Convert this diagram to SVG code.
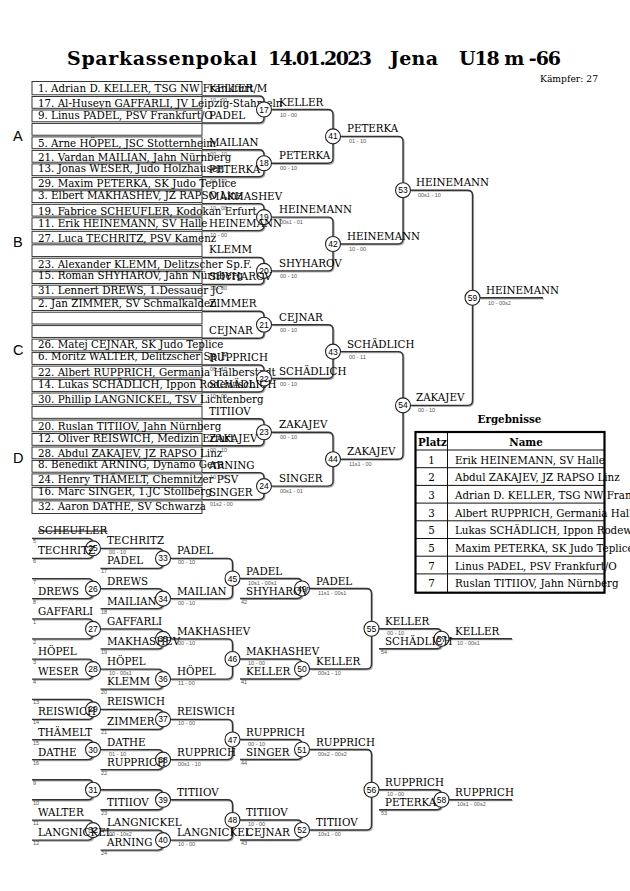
<svg xmlns="http://www.w3.org/2000/svg" xmlns:xlink="http://www.w3.org/1999/xlink" width="630" height="891" viewBox="0 0 630 891">
<style>
.t{font-family:"DejaVu Serif","Liberation Serif",serif;font-size:10.3px;fill:#000}
.b{font-weight:bold}
.s{font-family:"Liberation Sans",Arial,sans-serif;font-size:5.5px;fill:#555}
.g{font-family:"Liberation Sans",Arial,sans-serif;font-size:14.5px;fill:#000}
.row{fill:none;stroke:#222;stroke-width:0.9}
.c{fill:#fff;stroke:#222;stroke-width:1.1}
.cn{font-family:"Liberation Sans",Arial,sans-serif;font-size:8.5px;text-anchor:middle;fill:#000}
.x{text-decoration:line-through}
.m{text-anchor:middle}
</style>
<rect width="630" height="891" fill="#fff"/>
<g id="title">
<text class="t b" x="67" y="65" style="font-size:19px" textLength="190">Sparkassenpokal</text>
<text class="t b" x="268" y="65" style="font-size:19px" textLength="104">14.01.2023</text>
<text class="t b" x="390" y="65" style="font-size:19px" textLength="48">Jena</text>
<text class="t b" x="459" y="65" style="font-size:19px" textLength="102">U18 m -66</text>
<text class="t" x="540" y="81.5" style="font-size:9.2px" textLength="58">Kämpfer: 27</text>
</g>
<g id="pools">
<text class="g" x="13" y="140.7">A</text>
<text class="g" x="13" y="247.3">B</text>
<text class="g" x="13" y="355">C</text>
<text class="g" x="13" y="462.7">D</text>
</g>
<g id="entry-list">
<rect class="row" x="32" y="81.5" width="170" height="13.3"/>
<rect class="row" x="32" y="96.5" width="170" height="11.8"/>
<rect class="row" x="32" y="110" width="170" height="11.8"/>
<rect class="row" x="32" y="123.4" width="170" height="11.8"/>
<rect class="row" x="32" y="136.9" width="170" height="11.8"/>
<rect class="row" x="32" y="150.4" width="170" height="11.8"/>
<rect class="row" x="32" y="163.9" width="170" height="11.8"/>
<rect class="row" x="32" y="177.4" width="170" height="11.8"/>
<rect class="row" x="32" y="190.8" width="170" height="11.8"/>
<rect class="row" x="32" y="204.3" width="170" height="11.8"/>
<rect class="row" x="32" y="217.8" width="170" height="11.8"/>
<rect class="row" x="32" y="231.3" width="170" height="11.8"/>
<rect class="row" x="32" y="244.8" width="170" height="11.8"/>
<rect class="row" x="32" y="258.2" width="170" height="11.8"/>
<rect class="row" x="32" y="271.7" width="170" height="11.8"/>
<rect class="row" x="32" y="285.2" width="170" height="11.8"/>
<rect class="row" x="32" y="298.7" width="170" height="11.8"/>
<rect class="row" x="32" y="312.2" width="170" height="11.8"/>
<rect class="row" x="32" y="325.6" width="170" height="11.8"/>
<rect class="row" x="32" y="339.1" width="170" height="11.8"/>
<rect class="row" x="32" y="352.6" width="170" height="11.8"/>
<rect class="row" x="32" y="366.1" width="170" height="11.8"/>
<rect class="row" x="32" y="379.6" width="170" height="11.8"/>
<rect class="row" x="32" y="393" width="170" height="11.8"/>
<rect class="row" x="32" y="406.5" width="170" height="11.8"/>
<rect class="row" x="32" y="420" width="170" height="11.8"/>
<rect class="row" x="32" y="433.5" width="170" height="11.8"/>
<rect class="row" x="32" y="447" width="170" height="11.8"/>
<rect class="row" x="32" y="460.4" width="170" height="11.8"/>
<rect class="row" x="32" y="473.9" width="170" height="11.8"/>
<rect class="row" x="32" y="487.4" width="170" height="11.8"/>
<rect class="row" x="32" y="500.9" width="170" height="12.6"/>
<text class="t" x="38" y="92.3">1. Adrian D. KELLER, TSG NW Frankfurt/M</text>
<text class="t" x="38" y="106.7">17. Al-Huseyn GAFFARLI, JV Leipzig-Stahmeln</text>
<text class="t" x="38" y="119.3">9. Linus PADEL, PSV Frankfurt/O</text>
<text class="t" x="38" y="146.7">5. Arne HÖPEL, JSC Stotternheim</text>
<text class="t" x="38" y="160.7">21. Vardan MAILIAN, Jahn Nürnberg</text>
<text class="t" x="38" y="171.7">13. Jonas WESER, Judo Holzhausen</text>
<text class="t" x="38" y="187.3">29. Maxim PETERKA, SK Judo Teplice</text>
<text class="t" x="38" y="198.7">3. Elbert MAKHASHEV, JZ RAPSO Linz</text>
<text class="t" x="38" y="215">19. Fabrice SCHEUFLER, Kodokan Erfurt</text>
<text class="t" x="38" y="226.7">11. Erik HEINEMANN, SV Halle</text>
<text class="t" x="38" y="241.7">27. Luca TECHRITZ, PSV Kamenz</text>
<text class="t" x="38" y="268.3">23. Alexander KLEMM, Delitzscher Sp.F.</text>
<text class="t" x="38" y="279.3">15. Roman SHYHAROV, Jahn Nürnberg</text>
<text class="t" x="38" y="294">31. Lennert DREWS, 1.Dessauer JC</text>
<text class="t" x="38" y="306.7">2. Jan ZIMMER, SV Schmalkalden</text>
<text class="t" x="38" y="348.3">26. Matej CEJNAR, SK Judo Teplice</text>
<text class="t" x="38" y="360">6. Moritz WALTER, Delitzscher Sp.F.</text>
<text class="t" x="38" y="376">22. Albert RUPPRICH, Germania Halberstadt</text>
<text class="t" x="38" y="387.7">14. Lukas SCHÄDLICH, Ippon Rodewisch</text>
<text class="t" x="38" y="403.3">30. Phillip LANGNICKEL, TSV Lichtenberg</text>
<text class="t" x="38" y="430">20. Ruslan TITIIOV, Jahn Nürnberg</text>
<text class="t" x="38" y="441.7">12. Oliver REISWICH, Medizin Erfurt</text>
<text class="t" x="38" y="456.7">28. Abdul ZAKAJEV, JZ RAPSO Linz</text>
<text class="t" x="38" y="468.3">8. Benedikt ARNING, Dynamo Gera</text>
<text class="t" x="38" y="483.3">24. Henry THÄMELT, Chemnitzer PSV</text>
<text class="t" x="38" y="495">16. Marc SINGER, 1.JC Stollberg</text>
<text class="t" x="38" y="510">32. Aaron DATHE, SV Schwarza</text>
</g>
<g id="connectors" fill="none" stroke-width="1.4">
<use xlink:href="#conn-paths" href="#conn-paths" stroke="#aaaaaa" transform="translate(0.9,0.9)"/>
<g stroke="#333">
<g id="conn-paths">
<path d="M202,96H259Q264,96 264,101V118Q264,123 259,123H202"/>
<path d="M202,149.8H259Q264,149.8 264,154.8V171.8Q264,176.8 259,176.8H202"/>
<path d="M202,203.6H259Q264,203.6 264,208.6V225.6Q264,230.6 259,230.6H202"/>
<path d="M202,257.4H259Q264,257.4 264,262.4V279.4Q264,284.4 259,284.4H202"/>
<path d="M202,311.2H259Q264,311.2 264,316.2V333.2Q264,338.2 259,338.2H202"/>
<path d="M202,365H259Q264,365 264,370V387Q264,392 259,392H202"/>
<path d="M202,418.8H259Q264,418.8 264,423.8V440.8Q264,445.8 259,445.8H202"/>
<path d="M202,472.6H259Q264,472.6 264,477.6V494.6Q264,499.6 259,499.6H202"/>
<path d="M271.5,109.5H328Q333,109.5 333,114.5V158.3Q333,163.3 328,163.3H271.5"/>
<path d="M271.5,217.1H328Q333,217.1 333,222.1V265.9Q333,270.9 328,270.9H271.5"/>
<path d="M271.5,324.7H328Q333,324.7 333,329.7V373.5Q333,378.5 328,378.5H271.5"/>
<path d="M271.5,432.3H328Q333,432.3 333,437.3V481.1Q333,486.1 328,486.1H271.5"/>
<path d="M340.5,136.4H398Q403,136.4 403,141.4V239Q403,244 398,244H340.5"/>
<path d="M340.5,351.6H398Q403,351.6 403,356.6V454.2Q403,459.2 398,459.2H340.5"/>
<path d="M410.5,190.2H467.5Q472.5,190.2 472.5,195.2V400.4Q472.5,405.4 467.5,405.4H410.5"/>
<path d="M480,297.8H543"/>
<path d="M32,538.4H88Q93,538.4 93,543.4V553.4Q93,558.4 88,558.4H32"/>
<path d="M32,578.6H88Q93,578.6 93,583.6V593.6Q93,598.6 88,598.6H32"/>
<path d="M32,618.9H88Q93,618.9 93,623.9V633.9Q93,638.9 88,638.9H32"/>
<path d="M32,659.1H88Q93,659.1 93,664.1V674.1Q93,679.1 88,679.1H32"/>
<path d="M32,699.4H88Q93,699.4 93,704.4V714.4Q93,719.4 88,719.4H32"/>
<path d="M32,739.6H88Q93,739.6 93,744.6V754.6Q93,759.6 88,759.6H32"/>
<path d="M32,779.8H88Q93,779.8 93,784.8V794.8Q93,799.8 88,799.8H32"/>
<path d="M32,820.1H88Q93,820.1 93,825.1V835.1Q93,840.1 88,840.1H32"/>
<path d="M100.5,548.4H158Q163,548.4 163,553.4V563.4Q163,568.4 158,568.4H100.5"/>
<path d="M100.5,588.6H158Q163,588.6 163,593.6V603.6Q163,608.6 158,608.6H100.5"/>
<path d="M100.5,628.9H158Q163,628.9 163,633.9V643.9Q163,648.9 158,648.9H100.5"/>
<path d="M100.5,669.1H158Q163,669.1 163,674.1V684.1Q163,689.1 158,689.1H100.5"/>
<path d="M100.5,709.4H158Q163,709.4 163,714.4V724.4Q163,729.4 158,729.4H100.5"/>
<path d="M100.5,749.6H158Q163,749.6 163,754.6V764.6Q163,769.6 158,769.6H100.5"/>
<path d="M100.5,789.8H158Q163,789.8 163,794.8V804.8Q163,809.8 158,809.8H100.5"/>
<path d="M100.5,830.1H158Q163,830.1 163,835.1V845.1Q163,850.1 158,850.1H100.5"/>
<path d="M170.5,558.4H227.5Q232.5,558.4 232.5,563.4V593.6Q232.5,598.6 227.5,598.6H170.5"/>
<path d="M170.5,638.9H227.5Q232.5,638.9 232.5,643.9V674.1Q232.5,679.1 227.5,679.1H170.5"/>
<path d="M170.5,719.4H227.5Q232.5,719.4 232.5,724.4V754.6Q232.5,759.6 227.5,759.6H170.5"/>
<path d="M170.5,799.8H227.5Q232.5,799.8 232.5,804.8V835.1Q232.5,840.1 227.5,840.1H170.5"/>
<path d="M240,578.5H297Q302,578.5 302,583.5V593.5Q302,598.5 297,598.5H240"/>
<path d="M240,659H297Q302,659 302,664V674Q302,679 297,679H240"/>
<path d="M240,739.5H297Q302,739.5 302,744.5V754.5Q302,759.5 297,759.5H240"/>
<path d="M240,820H297Q302,820 302,825V835Q302,840 297,840H240"/>
<path d="M309.5,588.5H366.5Q371.5,588.5 371.5,593.5V664Q371.5,669 366.5,669H309.5"/>
<path d="M309.5,749.5H366.5Q371.5,749.5 371.5,754.5V825Q371.5,830 366.5,830H309.5"/>
<path d="M379,628.75H436.5Q441.5,628.75 441.5,633.75V643.75Q441.5,648.75 436.5,648.75H379"/>
<path d="M379,789.75H436.5Q441.5,789.75 441.5,794.75V804.75Q441.5,809.75 436.5,809.75H379"/>
<path d="M449,638.75H512"/>
<path d="M449,799.75H512"/>
</g>
</g>
</g>
<g id="m17">
<circle class="c" cx="264" cy="109.5" r="7.5"/><text class="cn" x="264" y="112.5">17</text>
<text class="t" x="209" y="92">KELLER</text><text class="s" x="210" y="102">10 - 00</text>
<text class="t" x="209" y="119">PADEL</text>
<text class="t" x="279" y="105.5">KELLER</text><text class="s" x="280" y="116.5">10 - 00</text>
</g>
<g id="m18">
<circle class="c" cx="264" cy="163.3" r="7.5"/><text class="cn" x="264" y="166.3">18</text>
<text class="t" x="209" y="145.8">MAILIAN</text><text class="s" x="210" y="155.8">00 - 10</text>
<text class="t" x="209" y="172.8">PETERKA</text><text class="s" x="210" y="182.8">00 - 10</text>
<text class="t" x="279" y="159.3">PETERKA</text><text class="s" x="280" y="170.3">00 - 10</text>
</g>
<g id="m19">
<circle class="c" cx="264" cy="217.1" r="7.5"/><text class="cn" x="264" y="220.1">19</text>
<text class="t" x="209" y="199.6">MAKHASHEV</text><text class="s" x="210" y="209.6">10 - 00</text>
<text class="t" x="209" y="226.6">HEINEMANN</text><text class="s" x="210" y="236.6">10 - 00</text>
<text class="t" x="279" y="213.1">HEINEMANN</text><text class="s" x="280" y="224.1">00s1 - 01</text>
</g>
<g id="m20">
<circle class="c" cx="264" cy="270.9" r="7.5"/><text class="cn" x="264" y="273.9">20</text>
<text class="t" x="209" y="253.4">KLEMM</text>
<text class="t" x="209" y="280.4">SHYHAROV</text><text class="s" x="210" y="290.4">10 - 00</text>
<text class="t" x="279" y="266.9">SHYHAROV</text><text class="s" x="280" y="277.9">00 - 10</text>
</g>
<g id="m21">
<circle class="c" cx="264" cy="324.7" r="7.5"/><text class="cn" x="264" y="327.7">21</text>
<text class="t" x="209" y="307.2">ZIMMER</text>
<text class="t" x="209" y="334.2">CEJNAR</text>
<text class="t" x="279" y="320.7">CEJNAR</text><text class="s" x="280" y="331.7">00 - 10</text>
</g>
<g id="m22">
<circle class="c" cx="264" cy="378.5" r="7.5"/><text class="cn" x="264" y="381.5">22</text>
<text class="t" x="209" y="361">RUPPRICH</text><text class="s" x="210" y="371">00 - 10</text>
<text class="t" x="209" y="388">SCHÄDLICH</text><text class="s" x="210" y="398">10 - 00</text>
<text class="t" x="279" y="374.5">SCHÄDLICH</text><text class="s" x="280" y="385.5">00 - 10</text>
</g>
<g id="m23">
<circle class="c" cx="264" cy="432.3" r="7.5"/><text class="cn" x="264" y="435.3">23</text>
<text class="t" x="209" y="414.8">TITIIOV</text>
<text class="t" x="209" y="441.8">ZAKAJEV</text><text class="s" x="210" y="451.8">00 - 10</text>
<text class="t" x="279" y="428.3">ZAKAJEV</text><text class="s" x="280" y="439.3">00 - 10</text>
</g>
<g id="m24">
<circle class="c" cx="264" cy="486.1" r="7.5"/><text class="cn" x="264" y="489.1">24</text>
<text class="t" x="209" y="468.6">ARNING</text><text class="s" x="210" y="478.6">10 - 00</text>
<text class="t" x="209" y="495.6">SINGER</text><text class="s" x="210" y="505.6">01s2 - 00</text>
<text class="t" x="279" y="482.1">SINGER</text><text class="s" x="280" y="493.1">00s1 - 01</text>
</g>
<g id="m41">
<circle class="c" cx="333" cy="136.4" r="7.5"/><text class="cn" x="333" y="139.4">41</text>
<text class="t" x="347" y="132.4">PETERKA</text><text class="s" x="349" y="143.4">01 - 10</text>
</g>
<g id="m42">
<circle class="c" cx="333" cy="244" r="7.5"/><text class="cn" x="333" y="247">42</text>
<text class="t" x="347" y="240">HEINEMANN</text><text class="s" x="349" y="251">10 - 00</text>
</g>
<g id="m43">
<circle class="c" cx="333" cy="351.6" r="7.5"/><text class="cn" x="333" y="354.6">43</text>
<text class="t" x="347" y="347.6">SCHÄDLICH</text><text class="s" x="349" y="358.6">00 - 11</text>
</g>
<g id="m44">
<circle class="c" cx="333" cy="459.2" r="7.5"/><text class="cn" x="333" y="462.2">44</text>
<text class="t" x="347" y="455.2">ZAKAJEV</text><text class="s" x="349" y="466.2">11s1 - 00</text>
</g>
<g id="m53">
<circle class="c" cx="403" cy="190.2" r="7.5"/><text class="cn" x="403" y="193.2">53</text>
<text class="t" x="416" y="186.2">HEINEMANN</text><text class="s" x="418" y="197.2">00s1 - 10</text>
</g>
<g id="m54">
<circle class="c" cx="403" cy="405.4" r="7.5"/><text class="cn" x="403" y="408.4">54</text>
<text class="t" x="416" y="401.4">ZAKAJEV</text><text class="s" x="418" y="412.4">00 - 10</text>
</g>
<g id="m59">
<circle class="c" cx="472.5" cy="297.8" r="7.5"/><text class="cn" x="472.5" y="300.8">59</text>
<text class="t" x="486" y="293.8">HEINEMANN</text><text class="s" x="488" y="304.8">10 - 00s2</text>
</g>
<g id="m25">
<circle class="c" cx="93" cy="548.4" r="7.5"/><text class="cn" x="93" y="551.4">25</text>
<text class="t x" x="38" y="534.4">SCHEUFLER</text><text class="s" x="33" y="543.4">5</text>
<text class="t" x="38" y="554.4">TECHRITZ</text><text class="s" x="33" y="563.4">6</text>
</g>
<g id="m26">
<circle class="c" cx="93" cy="588.6" r="7.5"/><text class="cn" x="93" y="591.6">26</text>
<text class="s" x="33" y="583.6">7</text>
<text class="t" x="38" y="594.6">DREWS</text><text class="s" x="33" y="603.6">8</text>
</g>
<g id="m27">
<circle class="c" cx="93" cy="628.9" r="7.5"/><text class="cn" x="93" y="631.9">27</text>
<text class="t" x="38" y="614.9">GAFFARLI</text><text class="s" x="33" y="623.9">1</text>
<text class="s" x="33" y="643.9">2</text>
</g>
<g id="m28">
<circle class="c" cx="93" cy="669.1" r="7.5"/><text class="cn" x="93" y="672.1">28</text>
<text class="t" x="38" y="655.1">HÖPEL</text><text class="s" x="33" y="664.1">3</text>
<text class="t" x="38" y="675.1">WESER</text><text class="s" x="33" y="684.1">4</text>
</g>
<g id="m29">
<circle class="c" cx="93" cy="709.4" r="7.5"/><text class="cn" x="93" y="712.4">29</text>
<text class="s" x="33" y="704.4">13</text>
<text class="t" x="38" y="715.4">REISWICH</text><text class="s" x="33" y="724.4">14</text>
</g>
<g id="m30">
<circle class="c" cx="93" cy="749.6" r="7.5"/><text class="cn" x="93" y="752.6">30</text>
<text class="t" x="38" y="735.6">THÄMELT</text><text class="s" x="33" y="744.6">15</text>
<text class="t" x="38" y="755.6">DATHE</text><text class="s" x="33" y="764.6">16</text>
</g>
<g id="m31">
<circle class="c" cx="93" cy="789.8" r="7.5"/><text class="cn" x="93" y="792.8">31</text>
<text class="s" x="33" y="784.8">9</text>
<text class="s" x="33" y="804.8">10</text>
</g>
<g id="m32">
<circle class="c" cx="93" cy="830.1" r="7.5"/><text class="cn" x="93" y="833.1">32</text>
<text class="t" x="38" y="816.1">WALTER</text><text class="s" x="33" y="825.1">11</text>
<text class="t" x="38" y="836.1">LANGNICKEL</text><text class="s" x="33" y="845.1">12</text>
</g>
<g id="m33">
<circle class="c" cx="163" cy="558.4" r="7.5"/><text class="cn" x="163" y="561.4">33</text>
<text class="t" x="107" y="544.4">TECHRITZ</text><text class="s" x="109" y="554.4">00 - 10</text>
<text class="t" x="107" y="564.4">PADEL</text><text class="s" x="101" y="573.4">17</text>
</g>
<g id="m34">
<circle class="c" cx="163" cy="598.6" r="7.5"/><text class="cn" x="163" y="601.6">34</text>
<text class="t" x="107" y="584.6">DREWS</text>
<text class="t" x="107" y="604.6">MAILIAN</text><text class="s" x="101" y="613.6">18</text>
</g>
<g id="m35">
<circle class="c" cx="163" cy="638.9" r="7.5"/><text class="cn" x="163" y="641.9">35</text>
<text class="t" x="107" y="624.9">GAFFARLI</text>
<text class="t" x="107" y="644.9">MAKHASHEV</text><text class="s" x="101" y="653.9">19</text>
</g>
<g id="m36">
<circle class="c" cx="163" cy="679.1" r="7.5"/><text class="cn" x="163" y="682.1">36</text>
<text class="t" x="107" y="665.1">HÖPEL</text><text class="s" x="109" y="675.1">10 - 00s1</text>
<text class="t" x="107" y="685.1">KLEMM</text><text class="s" x="101" y="694.1">20</text>
</g>
<g id="m37">
<circle class="c" cx="163" cy="719.4" r="7.5"/><text class="cn" x="163" y="722.4">37</text>
<text class="t" x="107" y="705.4">REISWICH</text>
<text class="t" x="107" y="725.4">ZIMMER</text><text class="s" x="101" y="734.4">21</text>
</g>
<g id="m38">
<circle class="c" cx="163" cy="759.6" r="7.5"/><text class="cn" x="163" y="762.6">38</text>
<text class="t" x="107" y="745.6">DATHE</text><text class="s" x="109" y="755.6">01 - 10</text>
<text class="t" x="107" y="765.6">RUPPRICH</text><text class="s" x="101" y="774.6">22</text>
</g>
<g id="m39">
<circle class="c" cx="163" cy="799.8" r="7.5"/><text class="cn" x="163" y="802.8">39</text>
<text class="t" x="107" y="805.8">TITIIOV</text><text class="s" x="101" y="814.8">23</text>
</g>
<g id="m40">
<circle class="c" cx="163" cy="840.1" r="7.5"/><text class="cn" x="163" y="843.1">40</text>
<text class="t" x="107" y="826.1">LANGNICKEL</text><text class="s" x="109" y="836.1">00 - 10s2</text>
<text class="t" x="107" y="846.1">ARNING</text><text class="s" x="101" y="855.1">24</text>
</g>
<g id="m45">
<circle class="c" cx="232.5" cy="578.5" r="7.5"/><text class="cn" x="232.5" y="581.5">45</text>
<text class="t" x="177" y="554.4">PADEL</text><text class="s" x="178" y="564.4">00 - 10</text>
<text class="t" x="177" y="594.6">MAILIAN</text><text class="s" x="178" y="604.6">00 - 10</text>
</g>
<g id="m46">
<circle class="c" cx="232.5" cy="659" r="7.5"/><text class="cn" x="232.5" y="662">46</text>
<text class="t" x="177" y="634.9">MAKHASHEV</text><text class="s" x="178" y="644.9">00 - 10</text>
<text class="t" x="177" y="675.1">HÖPEL</text><text class="s" x="178" y="685.1">11 - 00</text>
</g>
<g id="m47">
<circle class="c" cx="232.5" cy="739.5" r="7.5"/><text class="cn" x="232.5" y="742.5">47</text>
<text class="t" x="177" y="715.4">REISWICH</text><text class="s" x="178" y="725.4">10 - 00</text>
<text class="t" x="177" y="755.6">RUPPRICH</text><text class="s" x="178" y="765.6">00s1 - 10</text>
</g>
<g id="m48">
<circle class="c" cx="232.5" cy="820" r="7.5"/><text class="cn" x="232.5" y="823">48</text>
<text class="t" x="177" y="795.8">TITIIOV</text>
<text class="t" x="177" y="836.1">LANGNICKEL</text><text class="s" x="178" y="846.1">10 - 00</text>
</g>
<g id="m49">
<circle class="c" cx="302" cy="588.5" r="7.5"/><text class="cn" x="302" y="591.5">49</text>
<text class="t" x="246" y="574.5">PADEL</text><text class="s" x="248" y="584.5">10s1 - 00s1</text>
<text class="t" x="246" y="594.5">SHYHAROV</text><text class="s" x="241" y="603.5">42</text>
</g>
<g id="m50">
<circle class="c" cx="302" cy="669" r="7.5"/><text class="cn" x="302" y="672">50</text>
<text class="t" x="246" y="655">MAKHASHEV</text><text class="s" x="248" y="665">10 - 00</text>
<text class="t" x="246" y="675">KELLER</text><text class="s" x="241" y="684">41</text>
</g>
<g id="m51">
<circle class="c" cx="302" cy="749.5" r="7.5"/><text class="cn" x="302" y="752.5">51</text>
<text class="t" x="246" y="735.5">RUPPRICH</text><text class="s" x="248" y="745.5">00 - 10</text>
<text class="t" x="246" y="755.5">SINGER</text><text class="s" x="241" y="764.5">44</text>
</g>
<g id="m52">
<circle class="c" cx="302" cy="830" r="7.5"/><text class="cn" x="302" y="833">52</text>
<text class="t" x="246" y="816">TITIIOV</text><text class="s" x="248" y="826">10 - 00</text>
<text class="t" x="246" y="836">CEJNAR</text><text class="s" x="241" y="845">43</text>
</g>
<g id="m55">
<circle class="c" cx="371.5" cy="628.75" r="7.5"/><text class="cn" x="371.5" y="631.75">55</text>
<text class="t" x="316" y="584.5">PADEL</text><text class="s" x="318" y="594.5">11s1 - 00s1</text>
<text class="t" x="316" y="665">KELLER</text><text class="s" x="318" y="675">00s1 - 10</text>
</g>
<g id="m56">
<circle class="c" cx="371.5" cy="789.75" r="7.5"/><text class="cn" x="371.5" y="792.75">56</text>
<text class="t" x="316" y="745.5">RUPPRICH</text><text class="s" x="318" y="755.5">00s2 - 00s2</text>
<text class="t" x="316" y="826">TITIIOV</text><text class="s" x="318" y="836">10s1 - 00</text>
</g>
<g id="m57">
<circle class="c" cx="441.5" cy="638.75" r="7.5"/><text class="cn" x="441.5" y="641.75">57</text>
<text class="t" x="385" y="624.75">KELLER</text><text class="s" x="387" y="634.75">00 - 10</text>
<text class="t" x="385" y="644.75">SCHÄDLICH</text><text class="s" x="381" y="653.75">54</text>
<text class="t" x="455" y="634.75">KELLER</text><text class="s" x="457" y="644.75">10 - 00s1</text>
</g>
<g id="m58">
<circle class="c" cx="441.5" cy="799.75" r="7.5"/><text class="cn" x="441.5" y="802.75">58</text>
<text class="t" x="385" y="785.75">RUPPRICH</text><text class="s" x="387" y="795.75">10 - 00</text>
<text class="t" x="385" y="805.75">PETERKA</text><text class="s" x="381" y="814.75">53</text>
<text class="t" x="455" y="795.75">RUPPRICH</text><text class="s" x="457" y="805.75">10s1 - 00s2</text>
</g>
<g id="results">
<text class="t b m" x="509.5" y="422.7">Ergebnisse</text>
<path d="M415.5,450H604.5M415.5,467.7H604.5M415.5,485.4H604.5M415.5,503.1H604.5M415.5,520.8H604.5M415.5,538.5H604.5M415.5,556.2H604.5M415.5,573.9H604.5M447.5,432V592.7" fill="none" stroke="#111" stroke-width="1"/>
<rect x="415.5" y="432" width="189" height="160.7" fill="none" stroke="#000" stroke-width="2.2"/>
<text class="t b" x="418" y="446">Platz</text>
<text class="t b m" x="526" y="446">Name</text>
<text class="t m" x="431.5" y="463.5">1</text><text class="t" x="455" y="463.5">Erik HEINEMANN, SV Halle</text>
<text class="t m" x="431.5" y="481.2">2</text><text class="t" x="455" y="481.2">Abdul ZAKAJEV, JZ RAPSO Linz</text>
<text class="t m" x="431.5" y="498.9">3</text><text class="t" x="455" y="498.9">Adrian D. KELLER, TSG NW Frankfurt/M</text>
<text class="t m" x="431.5" y="516.6">3</text><text class="t" x="455" y="516.6">Albert RUPPRICH, Germania Halberstadt</text>
<text class="t m" x="431.5" y="534.3">5</text><text class="t" x="455" y="534.3">Lukas SCHÄDLICH, Ippon Rodewisch</text>
<text class="t m" x="431.5" y="552">5</text><text class="t" x="455" y="552">Maxim PETERKA, SK Judo Teplice</text>
<text class="t m" x="431.5" y="569.7">7</text><text class="t" x="455" y="569.7">Linus PADEL, PSV Frankfurt/O</text>
<text class="t m" x="431.5" y="587.4">7</text><text class="t" x="455" y="587.4">Ruslan TITIIOV, Jahn Nürnberg</text>
</g>
</svg>
